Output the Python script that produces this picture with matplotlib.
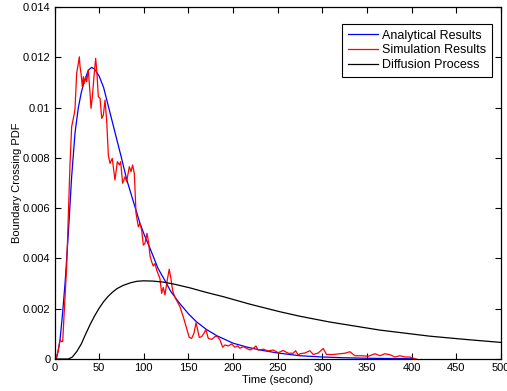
import numpy as np
import matplotlib
matplotlib.use('Agg')
import matplotlib.pyplot as plt

plt.rcParams['font.family'] = ['Liberation Sans', 'DejaVu Sans']

# analytical boundary crossing pdf
analytic_t = [0, 2, 4, 6.2, 9, 11.8, 15.5, 19.2, 23, 26.7, 30, 33, 37.9, 41.6, 45, 50, 55,
              60, 65, 70, 75, 80.8, 88, 95.7, 101, 107, 116, 124, 130, 140, 150, 159, 170,
              181.6, 200, 215, 230, 250, 275, 300, 325, 350, 400]
analytic_pdf = [0, 0, 0.0003, 0.00076, 0.0018, 0.0030, 0.0050, 0.00725, 0.0090, 0.0100,
                0.0106, 0.0110, 0.01149, 0.0116, 0.01153, 0.01125, 0.0108, 0.0101, 0.0094,
                0.0087, 0.0080, 0.00715, 0.0063, 0.0054, 0.0049, 0.0044, 0.0036, 0.0031,
                0.0027, 0.00222, 0.0018, 0.00148, 0.00118, 0.00093, 0.00063, 0.00048,
                0.00036, 0.00024, 0.00013, 0.00008, 0.00005, 0.00003, 0.00001]

# simulation histogram (noisy)
sim_t = [0, 1.7, 4.3, 6.2, 8, 9.2, 10.6, 13.6, 15.5, 17.4, 19.2, 21, 22.2, 23, 24, 24.8,
         26.7, 27.8, 28.6, 29.7, 31.2, 32.3, 33.4, 34.9, 36, 37.9, 39.8, 40.9, 42.4, 44.2,
         46.1, 47.3, 49.1, 51, 52.9, 54.7, 56.6, 58.4, 60.3, 62.2, 64.7, 67.7, 70.4, 72.6,
         74.1, 76.3, 79, 80.8, 83.8, 85.7, 87.5, 89.4, 91.3, 93.9, 95.7, 97.6, 99.5, 101.3,
         103.6, 105.5, 107, 108.8, 110.6, 112.5, 114.4, 118.1, 120, 121.8, 123.7, 126.3,
         128.5, 130.1, 132.4, 135, 137.5, 140.5, 144.2, 148, 150.9, 153.6, 156.2, 158.5,
         160.4, 162.1, 164.8, 167.4, 169.6, 172.2, 176, 179.7, 182.3, 185.3, 188.4, 191,
         194.6, 198.4, 202, 205, 207.7, 211.4, 215, 219, 223, 225.6, 228, 233.8, 239.4,
         245, 250.6, 256, 261.8, 267.4, 270, 273, 275, 280.5, 286, 289.8, 295.4, 301,
         304.7, 312.2, 319.7, 325.3, 330.9, 336.5, 344, 351.5, 358.9, 364.5, 370.1, 375.7,
         381.3, 386.9, 392.5, 398.1, 401.8, 405.5]
sim_pdf = [0, 0, 0.00036, 0.00076, 0.00069, 0.0007, 0.00168, 0.00367, 0.00566, 0.00778,
           0.00924, 0.00957, 0.00977, 0.00997, 0.0107, 0.01136, 0.01176, 0.01202, 0.01163,
           0.01136, 0.01083, 0.01123, 0.01097, 0.01123, 0.01103, 0.01149, 0.01057, 0.00997,
           0.01043, 0.01123, 0.01196, 0.01149, 0.01043, 0.01037, 0.00957, 0.0097, 0.0103,
           0.0095, 0.00811, 0.00778, 0.00798, 0.00712, 0.00785, 0.00772, 0.00785, 0.00699,
           0.00725, 0.00705, 0.00765, 0.00745, 0.00772, 0.00738, 0.0058, 0.00526, 0.0054,
           0.00513, 0.00453, 0.0046, 0.0050, 0.0046, 0.0041, 0.00387, 0.0037, 0.0038,
           0.00354, 0.0032, 0.00261, 0.00285, 0.00255, 0.00314, 0.00357, 0.00327, 0.0027,
           0.00245, 0.00228, 0.00208, 0.00168, 0.00122, 0.00086, 0.00082, 0.00102, 0.00144,
           0.00115, 0.00086, 0.00089, 0.00102, 0.00118, 0.00082, 0.00078, 0.00089, 0.00091,
           0.00076, 0.00047, 0.00056, 0.00052, 0.0006, 0.00047, 0.00052, 0.00043, 0.00049,
           0.00043, 0.00036, 0.00043, 0.00052, 0.00036, 0.00039, 0.00032, 0.00036, 0.00025,
           0.00034, 0.00023, 0.00023, 0.00033, 0.00016, 0.00021, 0.00024, 0.00033, 0.00018,
           0.00024, 0.00042, 0.00018, 0.00018, 0.00021, 0.00023, 0.00029, 0.00013, 0.00013,
           0.00011, 0.00021, 0.00013, 0.00021, 0.00017, 0.00008, 0.00013, 0.00008, 0.00008,
           0.00003, 0]

# diffusion process
diff_t = [0, 15.5, 20, 25, 30, 35, 40, 45, 50, 55, 60, 65, 70, 77, 85, 92, 99.4, 110,
          121.8, 135, 151.7, 170, 189, 219, 252.5, 275, 308.5, 364.5, 420, 460, 500]
diff_pdf = [0, 0, 0.00008, 0.0003, 0.0006, 0.0010, 0.00138, 0.00172, 0.00202, 0.00228,
            0.00249, 0.00266, 0.0028, 0.00293, 0.00303, 0.00309, 0.00311, 0.0031, 0.00306,
            0.00297, 0.00283, 0.00265, 0.00248, 0.00218, 0.00188, 0.0017, 0.00147,
            0.00115, 0.00091, 0.00078, 0.00066]

x_ticks = np.arange(0, 501, 50)
y_ticks = [0, 0.002, 0.004, 0.006, 0.008, 0.01, 0.012, 0.014]
y_tick_labels = ['0', '0.002', '0.004', '0.006', '0.008', '0.01', '0.012', '0.014']

fig = plt.figure(figsize=(5.07, 3.91), dpi=100)
ax = fig.add_axes([0.1075, 0.0818, 0.8805, 0.9002])

ax.plot(analytic_t, analytic_pdf, color='blue', lw=0.9, label='Analytical Results')
ax.plot(sim_t, sim_pdf, color='red', lw=0.9, label='Simulation Results')
ax.plot(diff_t, diff_pdf, color='black', lw=0.9, label='Diffusion Process')

ax.set_xlim(0, 500)
ax.set_ylim(0, 0.014)
ax.set_xticks(x_ticks)
ax.set_yticks(y_ticks)
ax.set_yticklabels(y_tick_labels)
ax.tick_params(direction='in', top=True, right=True, length=4, width=0.8,
               labelsize=8, pad=3)
for s in ax.spines.values():
    s.set_linewidth(0.9)

ax.set_xlabel('Time (second)', fontsize=8, labelpad=1)
ax.set_ylabel('Boundary Crossing PDF', fontsize=8, labelpad=0.5)

leg = ax.legend(loc='upper right', bbox_to_anchor=(0.980, 0.952), fontsize=9,
                fancybox=False, framealpha=1, edgecolor='black', handlelength=2.4,
                borderaxespad=0, borderpad=0.45, labelspacing=0.22, handletextpad=0.35)
leg.get_frame().set_linewidth(0.8)

fig.savefig('out.png', dpi=100)
